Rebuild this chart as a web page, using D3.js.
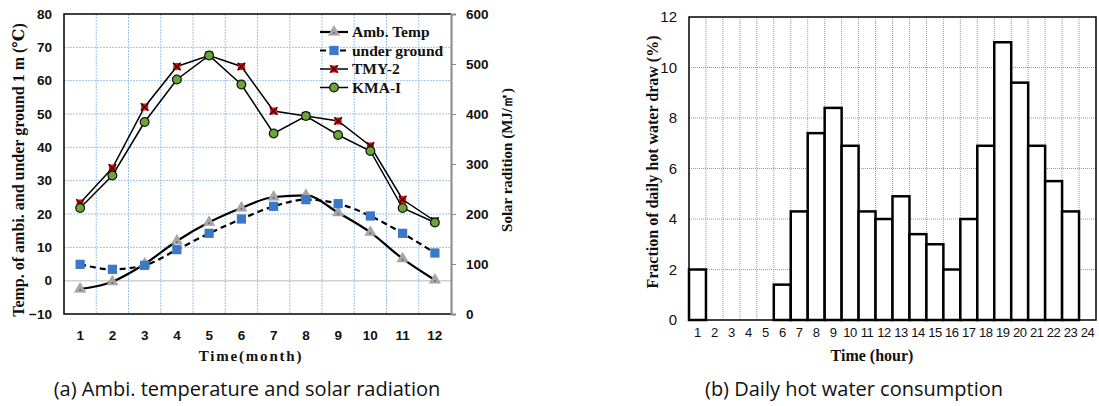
<!DOCTYPE html>
<html><head><meta charset="utf-8">
<script src="https://cdn.jsdelivr.net/npm/d3@7"></script>
<style>
body{margin:0;background:#fff;}
svg{display:block;}
</style></head>
<body>
<svg id="chart" width="1099" height="406"></svg>
<script>
// ---- Data (a) ----
const months = [1,2,3,4,5,6,7,8,9,10,11,12];
const ambTemp = [-2.5,-0.3,5.0,11.9,17.5,21.8,25.1,25.6,20.4,14.5,6.6,0.2];
const underGround = [4.9,3.4,4.6,9.3,14.2,18.5,22.3,24.3,23.1,19.4,14.2,8.3];
const tmy2 = [222,292,414,495,517,495,406,396,386,336,229,186];
const kma1 = [212,277,384,469,517,459,361,396,358,326,212,183];
const leftTicks = [-10,0,10,20,30,40,50,60,70,80];
const rightTicks = [0,100,200,300,400,500,600];
const legendLabels = ["Amb. Temp","under ground","TMY-2","KMA-I"];
// ---- Data (b) ----
const hours = d3.range(1,25);
const hotWater = [2.0,0,0,0,0,1.4,4.3,7.4,8.4,6.9,4.3,4.0,4.9,3.4,3.0,2.0,4.0,6.9,11.0,9.4,6.9,5.5,4.3,0];
const bTicks = [0,2,4,6,8,10,12];

const svg = d3.select("#chart");
const serif = "'Liberation Serif','DejaVu Serif',serif";
const sans = "'Liberation Sans',Arial,sans-serif";
const capFont = "'Open Sans','Noto Sans',sans-serif";

// ===== Chart (a) =====
const aL=64,aR=451,aT=14,aB=314;
const xA = d3.scaleBand().domain(months).range([aL,aR]);
const yL = d3.scaleLinear().domain([-10,80]).range([aB,aT]);
const yR = d3.scaleLinear().domain([0,600]).range([aB,aT]);
const gA = svg.append("g");

// gridlines
gA.append("g").selectAll("line").data(leftTicks.filter(d=>d!==-10&&d!==80&&d!==0)).join("line")
  .attr("x1",aL).attr("x2",aR).attr("y1",d=>yL(d)).attr("y2",d=>yL(d))
  .attr("stroke","#9cc3e8").attr("stroke-width",1).attr("stroke-dasharray","2,1");
gA.append("g").selectAll("line").data(months.slice(1)).join("line")
  .attr("x1",d=>xA(d)).attr("x2",d=>xA(d)).attr("y1",aT).attr("y2",aB)
  .attr("stroke","#9cc3e8").attr("stroke-width",1).attr("stroke-dasharray","2,1");
gA.append("line").attr("x1",aL).attr("x2",aR).attr("y1",yL(0)).attr("y2",yL(0))
  .attr("stroke","#d0d0d0").attr("stroke-width",1.5);

// frame
gA.append("path").attr("d",`M${aR},${aT}H${aL}V${aB}H${aR}`).attr("fill","none").attr("stroke","#000").attr("stroke-width",1.5);
// right axis
const axR = gA.append("g").attr("transform",`translate(${aR},0)`)
  .call(d3.axisRight(yR).tickValues(rightTicks).tickSize(5).tickPadding(10));
axR.select(".domain").attr("stroke","#888").attr("stroke-width",2);
axR.selectAll(".tick line").attr("stroke","#888");
axR.selectAll("text").attr("font-family",sans).attr("font-weight","bold").attr("font-size",13.5).attr("fill","#111");
// left axis
const axL = gA.append("g").attr("transform",`translate(${aL},0)`)
  .call(d3.axisLeft(yL).tickValues(leftTicks).tickSize(0).tickPadding(12));
axL.select(".domain").remove();
axL.selectAll("text").attr("font-family",sans).attr("font-weight","bold").attr("font-size",13.5).attr("fill","#111");
// bottom axis
const axB = gA.append("g").attr("transform",`translate(0,${aB})`)
  .call(d3.axisBottom(xA).tickSize(0).tickPadding(16));
axB.select(".domain").remove();
axB.selectAll("text").attr("font-family",sans).attr("font-weight","bold").attr("font-size",13.5).attr("fill","#111");

const cx = d=>xA(d)+xA.bandwidth()/2;
const lineL = d3.line().x((d,i)=>cx(months[i])).y(d=>yL(d)).curve(d3.curveMonotoneX);
const lineR = d3.line().x((d,i)=>cx(months[i])).y(d=>yR(d));

gA.append("path").datum(tmy2).attr("d",lineR).attr("fill","none").attr("stroke","#000").attr("stroke-width",1.5);
gA.append("path").datum(kma1).attr("d",lineR).attr("fill","none").attr("stroke","#000").attr("stroke-width",1.5);
gA.append("path").datum(ambTemp).attr("d",lineL).attr("fill","none").attr("stroke","#000").attr("stroke-width",2.2);
gA.append("path").datum(underGround).attr("d",lineL).attr("fill","none").attr("stroke","#000").attr("stroke-width",2.2).attr("stroke-dasharray","6,4");

const tri = d3.symbol().type(d3.symbolTriangle).size(55);
const sq = d3.symbol().type(d3.symbolSquare).size(85);
const circ = d3.symbol().type(d3.symbolCircle).size(60);
const crossMark = d3.symbol().type(d3.symbolX).size(40);
const sqSmall = d3.symbol().type(d3.symbolSquare).size(50);

function drawMarker(g,kind,x,y){
  const t=`translate(${x},${y})`;
  if(kind===0){
    g.append("path").attr("d",tri()).attr("transform",t).attr("fill","#a6a6a6").attr("stroke","#999").attr("stroke-width",0.5);
    g.append("circle").attr("cx",x).attr("cy",y+1).attr("r",1).attr("fill","#7a4fa0");
  } else if(kind===1){
    g.append("path").attr("d",sq()).attr("transform",t).attr("fill","#3b78c8");
  } else if(kind===2){
    g.append("path").attr("d",sqSmall()).attr("transform",t).attr("fill","#ee1111");
    g.append("path").attr("d",crossMark()).attr("transform",t).attr("fill","none").attr("stroke","#300").attr("stroke-width",1.5);
  } else {
    g.append("path").attr("d",circ()).attr("transform",t).attr("fill","#6aa636").attr("stroke","#111").attr("stroke-width",1.2);
  }
}
const gm = gA.append("g");
tmy2.forEach((v,i)=>drawMarker(gm,2,cx(months[i]),yR(v)));
kma1.forEach((v,i)=>drawMarker(gm,3,cx(months[i]),yR(v)));
ambTemp.forEach((v,i)=>drawMarker(gm,0,cx(months[i]),yL(v)));
underGround.forEach((v,i)=>drawMarker(gm,1,cx(months[i]),yL(v)));

// legend
const lg = gA.append("g");
legendLabels.forEach((lab,i)=>{
  const y = 32 + i*18.5;
  lg.append("line").attr("x1",320).attr("x2",348).attr("y1",y).attr("y2",y)
    .attr("stroke","#000").attr("stroke-width",i<2?2.2:1.5).attr("stroke-dasharray",i===1?"6,4":null);
  drawMarker(lg,i,334,y);
  lg.append("text").attr("x",352).attr("y",y+5).text(lab)
    .attr("font-family",serif).attr("font-weight","bold").attr("font-size",15.5).attr("fill","#111");
});

// axis titles
gA.append("text").attr("transform",`translate(24,170) rotate(-90)`).attr("text-anchor","middle")
  .attr("font-family",serif).attr("font-weight","bold").attr("font-size",16).attr("fill","#111")
  .text("Temp. of ambi. and under ground 1 m (℃)");
gA.append("text").attr("transform",`translate(512,160) rotate(-90)`).attr("text-anchor","middle")
  .attr("font-family",serif).attr("font-weight","bold").attr("font-size",15).attr("fill","#111")
  .text("Solar radition (MJ/㎡)");
gA.append("text").attr("x",251).attr("y",361).attr("text-anchor","middle")
  .attr("font-family",serif).attr("font-weight","bold").attr("font-size",15).attr("letter-spacing",1.8).attr("fill","#111")
  .text("Time(month)");
svg.append("text").attr("x",247).attr("y",396).attr("text-anchor","middle")
  .attr("font-family",capFont).attr("font-size",20).attr("fill","#111")
  .text("(a) Ambi. temperature and solar radiation");

// ===== Chart (b) =====
const bL=689,bR=1096,bT=17,bB=320;
const xB = d3.scaleBand().domain(hours).range([bL,bR]);
const yB = d3.scaleLinear().domain([0,12]).range([bB,bT]);
const gB = svg.append("g");
gB.append("g").selectAll("line").data(bTicks.filter(d=>d>0&&d<12)).join("line")
  .attr("x1",bL).attr("x2",bR).attr("y1",d=>yB(d)).attr("y2",d=>yB(d))
  .attr("stroke","#999").attr("stroke-width",1).attr("stroke-dasharray","1,1");
gB.append("g").selectAll("line").data(hours.slice(1)).join("line")
  .attr("x1",d=>xB(d)).attr("x2",d=>xB(d)).attr("y1",bT).attr("y2",bB)
  .attr("stroke","#999").attr("stroke-width",1).attr("stroke-dasharray","1,1");
gB.append("g").selectAll("rect").data(hours.filter((h,i)=>hotWater[i]>0)).join("rect")
  .attr("x",d=>xB(d)).attr("width",xB.bandwidth())
  .attr("y",d=>yB(hotWater[d-1])).attr("height",d=>bB-yB(hotWater[d-1]))
  .attr("fill","#fff").attr("stroke","#000").attr("stroke-width",2.5);
gB.append("rect").attr("x",bL).attr("y",bT).attr("width",bR-bL).attr("height",bB-bT)
  .attr("fill","none").attr("stroke","#000").attr("stroke-width",1.5);
const byAx = gB.append("g").attr("transform",`translate(${bL},0)`)
  .call(d3.axisLeft(yB).tickValues(bTicks).tickSize(0).tickPadding(12));
byAx.select(".domain").remove();
byAx.selectAll("text").attr("font-family",sans).attr("font-size",15).attr("fill","#111");
const bxAx = gB.append("g").attr("transform",`translate(0,${bB})`)
  .call(d3.axisBottom(xB).tickSize(0).tickPadding(8));
bxAx.select(".domain").remove();
bxAx.selectAll("text").attr("font-family",sans).attr("font-size",13).attr("letter-spacing",-0.5).attr("fill","#111");
gB.append("text").attr("transform",`translate(658,162) rotate(-90)`).attr("text-anchor","middle")
  .attr("font-family",serif).attr("font-weight","bold").attr("font-size",16).attr("fill","#111")
  .text("Fraction of daily hot water draw (%)");
gB.append("text").attr("x",872).attr("y",361).attr("text-anchor","middle")
  .attr("font-family",serif).attr("font-weight","bold").attr("font-size",16).attr("fill","#111")
  .text("Time (hour)");
svg.append("text").attr("x",854).attr("y",396).attr("text-anchor","middle")
  .attr("font-family",capFont).attr("font-size",20).attr("fill","#111")
  .text("(b) Daily hot water consumption");
</script>
</body></html>
